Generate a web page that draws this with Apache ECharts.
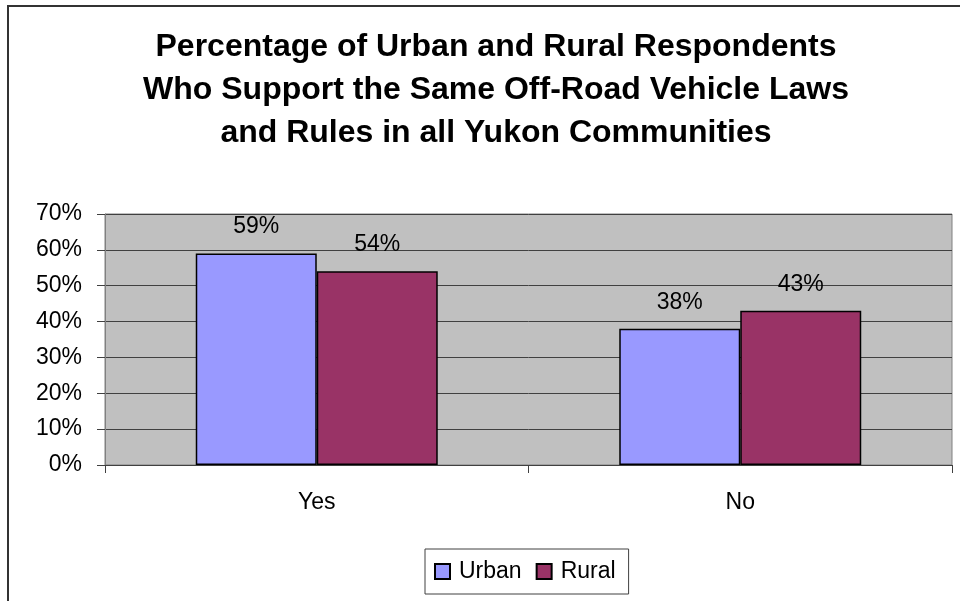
<!DOCTYPE html>
<html>
<head>
<meta charset="utf-8">
<script src="https://cdn.jsdelivr.net/npm/echarts@6/dist/echarts.min.js"></script>
<style>html,body{margin:0;padding:0;background:#fff;}#c{width:960px;height:601px;}</style>
</head>
<body>
<div id="c"></div>
<script>
const categories = ['Yes', 'No'];
const urban = [59, 38];
const rural = [54, 43];
const seriesNames = ['Urban', 'Rural'];
const titleText = 'Percentage of Urban and Rural Respondents\nWho Support the Same Off-Road Vehicle Laws\nand Rules in all Yukon Communities';

const chart = echarts.init(document.getElementById('c'), null, {renderer: 'canvas'});
const font = 'Liberation Sans, Arial, sans-serif';
chart.setOption({
  animation: false,
  backgroundColor: '#fff',
  graphic: [{
    type: 'rect', z: -1,
    shape: {x: 8, y: 6, width: 1000, height: 700},
    style: {fill: 'none', stroke: '#333', lineWidth: 2}
  }],
  title: {
    text: titleText,
    left: 491, top: 21, textAlign: 'center',
    textStyle: {fontFamily: font, fontSize: 32, fontWeight: 'bold', color: '#000', lineHeight: 43}
  },
  legend: {
    data: seriesNames,
    left: 425, top: 549,
    padding: [11, 13, 11, 9],
    borderColor: '#404040', borderWidth: 1, backgroundColor: '#fff',
    itemWidth: 15, itemHeight: 15, itemGap: 14, icon: 'rect',
    textStyle: {fontFamily: font, fontSize: 23, color: '#000', padding: [0, 0, 0, 4]}
  },
  grid: {
    left: 105, right: 8, top: 214, bottom: 136,
    show: true, backgroundColor: '#C0C0C0', borderColor: '#808080', borderWidth: 1
  },
  xAxis: {
    type: 'category', data: categories,
    axisLine: {lineStyle: {color: '#404040', width: 1}},
    axisTick: {show: true, length: 8, lineStyle: {color: '#404040'}},
    axisLabel: {fontFamily: font, fontSize: 23, color: '#000', margin: 26}
  },
  yAxis: {
    type: 'value', min: 0, max: 70, interval: 10,
    axisLine: {show: true, lineStyle: {color: '#808080'}},
    axisTick: {show: true, length: 8, lineStyle: {color: '#404040'}},
    axisLabel: {fontFamily: font, fontSize: 23, color: '#000', margin: 23, formatter: '{value}%'},
    splitLine: {show: true, lineStyle: {color: '#404040', width: 1}}
  },
  series: [
    {
      name: seriesNames[0], type: 'bar', data: urban,
      barGap: '0%', barCategoryGap: '42.86%',
      itemStyle: {color: '#9999FF', borderColor: '#000', borderWidth: 1.5},
      label: {show: true, position: 'top', distance: 15, formatter: '{c}%', fontFamily: font, fontSize: 23, color: '#000'}
    },
    {
      name: seriesNames[1], type: 'bar', data: rural,
      barGap: '0%', barCategoryGap: '42.86%',
      itemStyle: {color: '#993366', borderColor: '#000', borderWidth: 1.5},
      label: {show: true, position: 'top', distance: 15, formatter: '{c}%', fontFamily: font, fontSize: 23, color: '#000'}
    }
  ]
});
</script>
</body>
</html>
